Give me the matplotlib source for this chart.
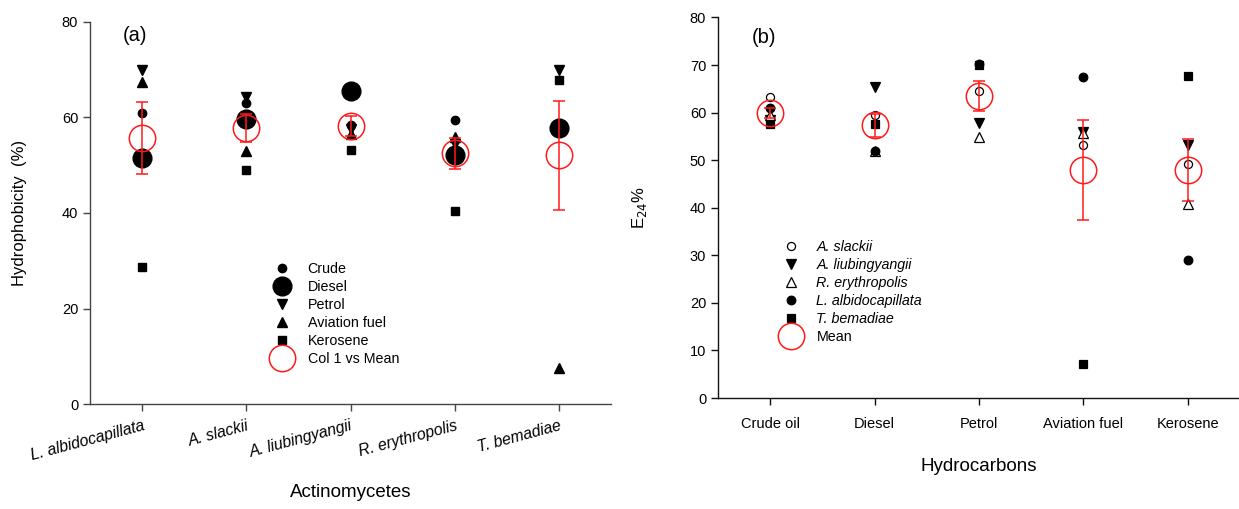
import numpy as np
import matplotlib
matplotlib.use("Agg")
import matplotlib.pyplot as plt
from matplotlib.lines import Line2D

plt.rcParams['font.family'] = ['Liberation Sans', 'DejaVu Sans']

# ---------------- Panel (a) data ----------------
organisms_a = ["L. albidocapillata", "A. slackii", "A. liubingyangii",
               "R. erythropolis", "T. bemadiae"]
crude = [60.9, 63.0, 58.5, 59.5, 57.5]
diesel = [51.5, 59.7, 65.6, 52.1, 57.7]
petrol = [70.0, 64.3, 57.5, 54.5, 70.0]
aviation = [67.4, 53.0, 56.5, 55.9, 7.5]
kerosene = [28.7, 49.0, 53.2, 40.5, 67.8]

# ---------------- Panel (b) data ----------------
hydrocarbons_b = ["Crude oil", "Diesel", "Petrol", "Aviation fuel", "Kerosene"]
a_slackii = [63.2, 59.6, 64.6, 53.1, 49.2]
a_liubingyangii = [58.5, 65.3, 57.8, 56.0, 53.1]
r_erythropolis = [59.5, 52.0, 54.8, 55.8, 40.7]
l_albidocapillata = [60.9, 52.0, 70.2, 67.4, 29.0]
t_bemadiae = [57.6, 57.6, 70.0, 7.2, 67.8]

RED = '#ff1a1a'
W, H = 1239, 509
fig = plt.figure(figsize=(W / 100, H / 100), dpi=100)

def fx(px):
    return px / W

def fy(py):
    return 1 - py / H

ax1 = fig.add_axes([fx(90), fy(404), fx(611 - 90), (404 - 22) / H])
ax2 = fig.add_axes([fx(718), fy(398), fx(1239 - 718), (398 - 17.5) / H])

def style(ax, color):
    for s in ['top', 'right']:
        ax.spines[s].set_visible(False)
    for s in ['left', 'bottom']:
        ax.spines[s].set_color(color)
        ax.spines[s].set_linewidth(1.0)
    ax.tick_params(axis='both', direction='out', length=5, width=1,
                   color=color, labelsize=10.5, labelcolor='black')

# ---------------- Panel (a) ----------------
style(ax1, '#444444')
xa = np.arange(len(organisms_a))
series_a = [
    ("Crude", crude, 'o', 6),
    ("Diesel", diesel, 'o', 13.5),
    ("Petrol", petrol, 'v', 7.5),
    ("Aviation fuel", aviation, '^', 7.5),
    ("Kerosene", kerosene, 's', 6.2),
]
handles_a = []
for name, vals, mk, ms in series_a:
    ax1.plot(xa, vals, linestyle='none', marker=mk, markersize=ms,
             color='black', zorder=3)
    handles_a.append(Line2D([], [], linestyle='none', marker=mk,
                            markersize=ms, color='black', label=name))
data_a = np.array([crude, diesel, petrol, aviation, kerosene])
mean_a = data_a.mean(axis=0)
se_a = data_a.std(axis=0, ddof=1) / np.sqrt(data_a.shape[0])
ax1.errorbar(xa, mean_a, yerr=se_a, fmt='none', ecolor=RED, elinewidth=1.1,
             capsize=4.5, capthick=1.1, zorder=4)
ax1.plot(xa, mean_a, linestyle='none', marker='o', markersize=19,
         markerfacecolor='none', markeredgecolor=RED, markeredgewidth=1.1,
         zorder=5)
handles_a.append(Line2D([], [], linestyle='none', marker='o', markersize=19,
                        markerfacecolor='none', markeredgecolor=RED,
                        markeredgewidth=1.1, label="Col 1 vs Mean"))
ax1.set_xlim(-0.5, 4.5)
ax1.set_ylim(0, 80)
ax1.set_yticks([0, 20, 40, 60, 80])
ax1.set_xticks(xa)
ax1.set_xticklabels(organisms_a, rotation=15, ha='right',
                    rotation_mode='anchor', style='italic', fontsize=11.3)
ax1.tick_params(axis='x', pad=5)
for lbl in ax1.get_xticklabels():
    lbl.set_x(lbl.get_position()[0])
ax1.set_ylabel("Hydrophobicity  (%)", fontsize=12)
ax1.yaxis.set_label_coords(-0.121, 0.5)
ax1.set_xlabel("Actinomycetes", fontsize=13.5)
ax1.xaxis.set_label_coords(0.5, -0.21)
ax1.text(0.063, 0.965, "(a)", transform=ax1.transAxes, fontsize=14.5,
         va='center', ha='left')
ax1.legend(handles=handles_a, loc='upper left', frameon=False,
           bbox_to_anchor=(fx(256), fy(251)), bbox_transform=fig.transFigure,
           fontsize=10.3, handlelength=2.0, handletextpad=0.8,
           labelspacing=0.27, borderpad=0.3)

# ---------------- Panel (b) ----------------
style(ax2, '#111111')
xb = np.arange(len(hydrocarbons_b))
series_b = [
    ("A. slackii", a_slackii, 'o', 5.8, 'white'),
    ("A. liubingyangii", a_liubingyangii, 'v', 7.5, 'black'),
    ("R. erythropolis", r_erythropolis, '^', 7.0, 'white'),
    ("L. albidocapillata", l_albidocapillata, 'o', 6.2, 'black'),
    ("T. bemadiae", t_bemadiae, 's', 6.2, 'black'),
]
handles_b = []
for name, vals, mk, ms, fc in series_b:
    ax2.plot(xb, vals, linestyle='none', marker=mk, markersize=ms,
             markerfacecolor=fc, markeredgecolor='black', markeredgewidth=0.9,
             zorder=3)
    handles_b.append(Line2D([], [], linestyle='none', marker=mk, markersize=ms,
                            markerfacecolor=fc, markeredgecolor='black',
                            markeredgewidth=0.9, label=name))
data_b = np.array([a_slackii, a_liubingyangii, r_erythropolis,
                   l_albidocapillata, t_bemadiae])
mean_b = data_b.mean(axis=0)
se_b = data_b.std(axis=0, ddof=1) / np.sqrt(data_b.shape[0])
ax2.errorbar(xb, mean_b, yerr=se_b, fmt='none', ecolor=RED, elinewidth=1.1,
             capsize=4.5, capthick=1.1, zorder=4)
ax2.plot(xb, mean_b, linestyle='none', marker='o', markersize=19,
         markerfacecolor='none', markeredgecolor=RED, markeredgewidth=1.1,
         zorder=5)
handles_b.append(Line2D([], [], linestyle='none', marker='o', markersize=19,
                        markerfacecolor='none', markeredgecolor=RED,
                        markeredgewidth=1.1, label="Mean"))
ax2.set_xlim(-0.5, 4.49)
ax2.set_ylim(0, 80)
ax2.set_yticks(np.arange(0, 81, 10))
ax2.set_xticks(xb)
ax2.set_xticklabels(hydrocarbons_b, fontsize=10.5)
ax2.tick_params(axis='x', pad=9)
ax2.set_ylabel("E$_{24}$%", fontsize=12)
ax2.yaxis.set_label_coords(-0.133, 0.5)
ax2.set_xlabel("Hydrocarbons", fontsize=13.5)
ax2.xaxis.set_label_coords(0.5, -0.158)
ax2.text(0.065, 0.947, "(b)", transform=ax2.transAxes, fontsize=14.5,
         va='center', ha='left')
leg_b = ax2.legend(handles=handles_b, loc='upper left', frameon=False,
                   bbox_to_anchor=(fx(765), fy(229)),
                   bbox_transform=fig.transFigure,
                   fontsize=10.3, handlelength=2.0, handletextpad=0.8,
                   labelspacing=0.27, borderpad=0.3)
for t in leg_b.get_texts()[:5]:
    t.set_style('italic')

fig.savefig("out.png", dpi=100)
